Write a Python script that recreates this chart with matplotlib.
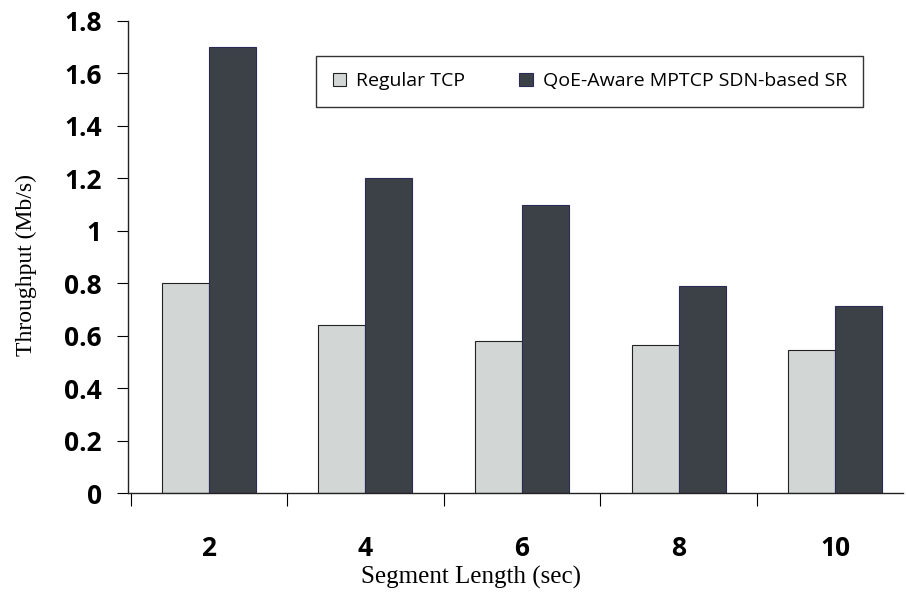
import matplotlib
matplotlib.use("Agg")
import matplotlib.pyplot as plt
import numpy as np

# segment lengths and throughput (Mb/s)
segments = ["2", "4", "6", "8", "10"]
regular_tcp = [0.80, 0.64, 0.58, 0.565, 0.545]
qoe_mptcp = [1.70, 1.20, 1.10, 0.79, 0.715]
yticks = [0, 0.2, 0.4, 0.6, 0.8, 1, 1.2, 1.4, 1.6, 1.8]
ytick_labels = ["0", "0.2", "0.4", "0.6", "0.8", "1", "1.2", "1.4", "1.6", "1.8"]

fig = plt.figure(figsize=(9.06, 5.96), dpi=100)
ax = fig.add_axes([0.1413, 0.1728, 0.855, 0.792])

x = np.arange(len(segments))
w = 0.30
ax.bar(x - w/2, regular_tcp, w, color="#d2d6d5", edgecolor="#222222", linewidth=0.8,
       label="Regular TCP")
ax.bar(x + w/2, qoe_mptcp, w, color="#3c4147", edgecolor="#2a2a55", linewidth=0.8,
       label="QoE-Aware MPTCP SDN-based SR")

ax.set_xlim(-0.516, 4.43)
ax.set_ylim(0, 1.8)
ax.spines["top"].set_visible(False)
ax.spines["right"].set_visible(False)
for s in ["left", "bottom"]:
    ax.spines[s].set_linewidth(1.0)
    ax.spines[s].set_color("#222222")

tick_font = {"family": "Open Sans", "weight": "bold", "size": 19}
ax.set_yticks(yticks)
ax.set_yticklabels(ytick_labels, **tick_font)
ax.tick_params(axis="y", direction="out", length=8, width=0.8, pad=11)

# category labels centred on the groups, ticks between the groups
ax.set_xticks(x)
ax.set_xticklabels(segments, **tick_font)
ax.tick_params(axis="x", length=0, pad=30)
ax.set_xticks(np.arange(-0.5, 4.0, 1.0), minor=True)
ax.tick_params(axis="x", which="minor", direction="out", length=9, width=0.8)

ax.set_xlabel("Segment Length (sec)", family="Liberation Serif", fontsize=18)
ax.set_ylabel("Throughput (Mb/s)", family="Liberation Serif", fontsize=17)
ax.xaxis.set_label_coords(0.443, -0.155)
ax.yaxis.set_label_coords(-0.118, 0.483)

leg = ax.legend(loc="center", bbox_to_anchor=(0.596, 0.872), ncol=2, frameon=True,
                fancybox=False, edgecolor="black", handlelength=0.7,
                handleheight=0.7, columnspacing=2.8, handletextpad=0.5,
                borderpad=0.85, prop={"family": "Open Sans", "size": 14})
leg.get_frame().set_linewidth(1.0)

fig.savefig("out.png", dpi=100)
